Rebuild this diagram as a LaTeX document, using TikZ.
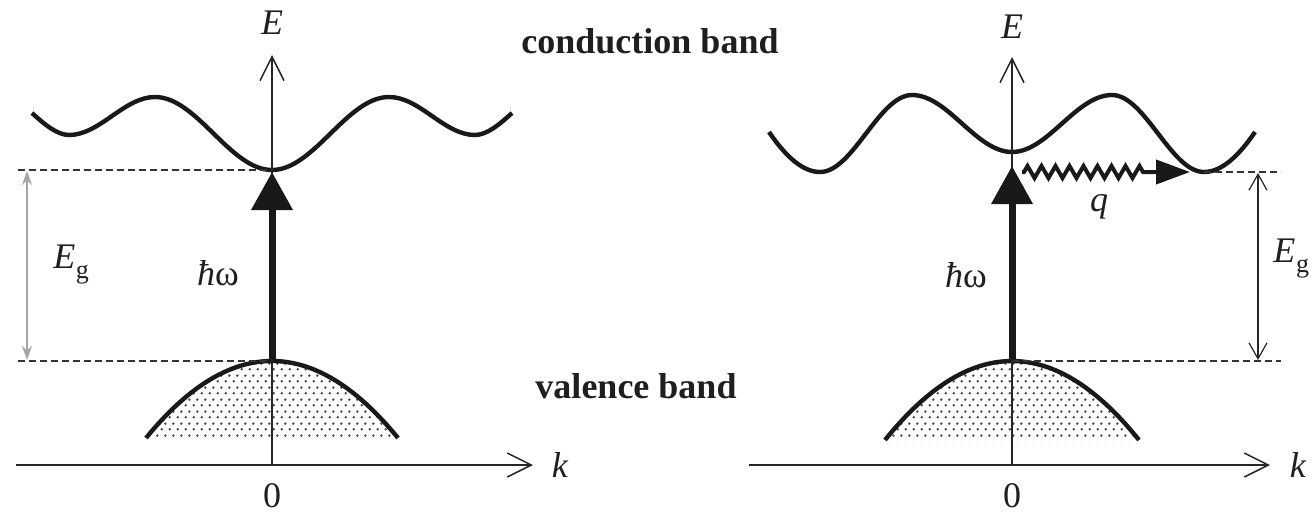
\documentclass[tikz,border=0pt]{standalone}
\usepackage{fontspec}
\setmainfont{Liberation Serif}
\usetikzlibrary{arrows.meta,patterns.meta,decorations.pathmorphing}

\tikzdeclarepattern{
  name=halftone,
  type=uncolored,
  bottom left={(0pt,0pt)},
  top right={(4pt,6pt)},
  tile size={(4pt,6pt)},
  code={
    \fill (1pt,1.5pt) circle (0.75pt);
    \fill (3pt,4.5pt) circle (0.75pt);
  }
}

\begin{document}
\begin{tikzpicture}[x=0.5pt,y=-0.5pt,
  axisline/.style={line width=0.75pt, draw=black!85,
    -{Straight Barb[length=12pt,width=12pt,line width=0.75pt]}},
  bandline/.style={line width=2.2pt, draw=black!90},
  levelline/.style={line width=0.7pt, draw=black!80, dash pattern=on 3.5pt off 2pt},
  photon/.style={line width=3.5pt, draw=black!90,
    -{Triangle[length=19pt,width=20pt]}, fill=black!90},
  phonon/.style={line width=2pt, draw=black!90, decorate,
    decoration={zigzag, segment length=7pt, amplitude=3pt, pre length=1pt, post length=22pt},
    -{Triangle[length=17pt,width=12pt]}},
  gapgray/.style={line width=0.7pt, draw=black!35,
    {Stealth[length=7pt,width=5pt]}-{Stealth[length=7pt,width=5pt]}, fill=black!35},
  gapblack/.style={line width=0.6pt, draw=black!85,
    {Straight Barb[length=8pt,width=9pt,line width=0.6pt]}-{Straight Barb[length=8pt,width=9pt,line width=0.6pt]}},
  lab/.style={inner sep=0pt, text=black!88, font=\fontsize{18}{20}\selectfont},
  bandlab/.style={inner sep=0pt, anchor=base, text=black!88, font=\fontsize{18}{20}\selectfont\bfseries},
  dots/.style={pattern=halftone, pattern color=black!70}
]
\useasboundingbox (0,0) rectangle (1316,515);
\fill[white] (0,0) rectangle (1316,515);

% ---------------- left panel ----------------
\coordinate (L0) at (272,465);
\coordinate (LEtop) at (272,55);
\coordinate (LKs) at (16,465);
\coordinate (LKe) at (533,465);
\coordinate (LCmin) at (272,170);
\coordinate (LVtop) at (272,361);
\coordinate (LDa) at (18,170);
\coordinate (LDb) at (18,361);
\coordinate (LGa) at (27,171);
\coordinate (LGb) at (27,360);
\coordinate (LPs) at (272,359);
\coordinate (LPe) at (272,172);

\fill[dots] (146,438) .. controls (230,335.3) and (314,335.3) .. (398,438) -- cycle;
\draw[bandline] (146,438) .. controls (230,335.3) and (314,335.3) .. (398,438);

\draw[bandline] (32,113) .. controls (44,124) and (57,135) .. (69,135)
  .. controls (100,135) and (124,97) .. (155,97)
  .. controls (197,97) and (230,170) .. (272,170)
  .. controls (314,170) and (347,97) .. (389,97)
  .. controls (420,97) and (444,135) .. (475,135)
  .. controls (487,135) and (500,124) .. (512,113);

\draw[levelline] (LDa) -- (LCmin);
\draw[levelline] (LDb) -- (LVtop);
\draw[gapgray] (LGa) -- (LGb);
\draw[axisline] (LKs) -- (LKe);
\draw[axisline] (L0) -- (LEtop);
\draw[photon] (LPs) -- (LPe);

\node[lab] (LE) at (272,23) {\textit{E}};
\node[lab] (Lk) at (560,465) {\textit{k}};
\node[lab] (Lzero) at (272,496) {0};
\node[lab, anchor=base west] (LEg) at (53,268) {\textit{E}\kern0.3pt\raisebox{-0.3em}{\fontsize{13}{13}\selectfont g}};
\node[lab, anchor=base] (Lhw) at (218,285) {\textit{ħ}ω};

% ---------------- labels in the middle ----------------
\node[bandlab] (cb) at (650,53) {conduction band};
\node[bandlab] (vb) at (636,398) {valence band};

% ---------------- right panel ----------------
\coordinate (R0) at (1012,465);
\coordinate (REtop) at (1012,57);
\coordinate (RKs) at (749,465);
\coordinate (RKe) at (1270,465);
\coordinate (RTr) at (1204,172);
\coordinate (RVtop) at (1012,361);
\coordinate (RDa) at (1281,172);
\coordinate (RDb) at (1281,361);
\coordinate (RGa) at (1258,173);
\coordinate (RGb) at (1258,360);
\coordinate (RPs) at (1012,359);
\coordinate (RPe) at (1012,166);
\coordinate (RQs) at (1022,172);
\coordinate (RQe) at (1190,172);

\fill[dots] (885,440) .. controls (969.7,334.7) and (1054.3,334.7) .. (1139,440) -- cycle;
\draw[bandline] (885,440) .. controls (969.7,334.7) and (1054.3,334.7) .. (1139,440);

\draw[bandline] (769,132) .. controls (786,157) and (803,172) .. (820,172)
  .. controls (853,172) and (879,95) .. (912,95)
  .. controls (948,95) and (976,152) .. (1012,152)
  .. controls (1048,152) and (1076,95) .. (1112,95)
  .. controls (1145,95) and (1171,172) .. (1204,172)
  .. controls (1221,172) and (1238,157) .. (1255,132);

\draw[levelline] (RTr) -- (RDa);
\draw[levelline] (RVtop) -- (RDb);
\draw[gapblack] (RGa) -- (RGb);
\draw[axisline] (RKs) -- (RKe);
\draw[axisline] (R0) -- (REtop);
\draw[photon] (RPs) -- (RPe);
\draw[phonon] (RQs) -- (RQe);

\node[lab] (RE) at (1012,27) {\textit{E}};
\node[lab] (Rk) at (1298,465) {\textit{k}};
\node[lab] (Rzero) at (1012,496) {0};
\node[lab, anchor=base west] (REg) at (1273,262) {\textit{E}\kern0.3pt\raisebox{-0.3em}{\fontsize{13}{13}\selectfont g}};
\node[lab, anchor=base] (Rhw) at (966,287) {\textit{ħ}ω};
\node[lab] (Rq) at (1099,207) {\textit{q}};
\end{tikzpicture}
\end{document}
